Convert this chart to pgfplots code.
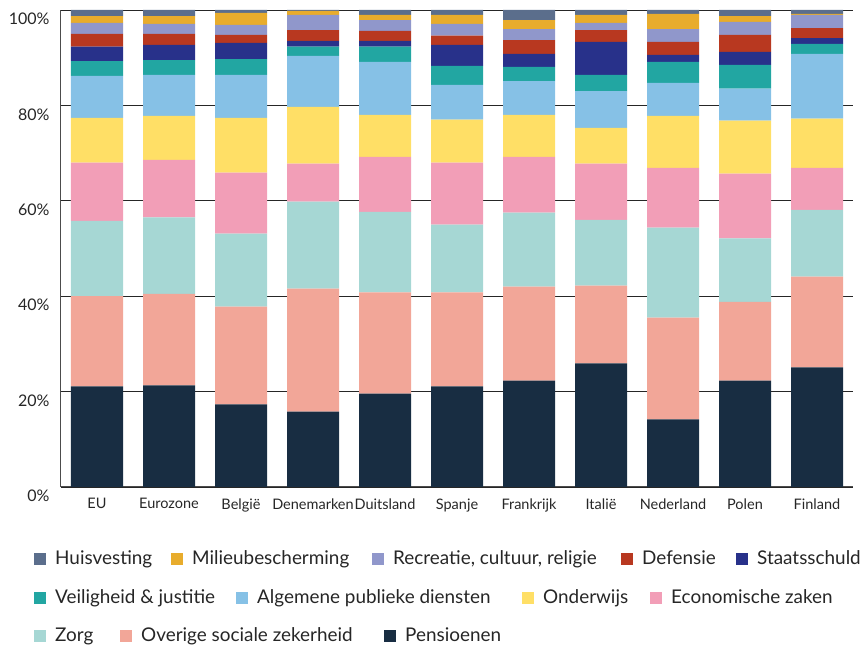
\documentclass[border=0pt]{standalone}
\usepackage{pgfplots}
\pgfplotsset{compat=1.18}
\usepackage{pgfplotstable}
\usepackage{fontspec}
\setmainfont{Lato}

\definecolor{huis}{HTML}{5B6E8C}
\definecolor{mil}{HTML}{E8AC2C}
\definecolor{recr}{HTML}{9097CB}
\definecolor{def}{HTML}{B83820}
\definecolor{staats}{HTML}{28318A}
\definecolor{veil}{HTML}{22A6A2}
\definecolor{alg}{HTML}{86C1E6}
\definecolor{ond}{HTML}{FFDF66}
\definecolor{econ}{HTML}{F29EB7}
\definecolor{zorg}{HTML}{A6D7D4}
\definecolor{over}{HTML}{F2A698}
\definecolor{pens}{HTML}{182D42}

\pgfplotstableread{
x pens over zorg econ ond alg veil staats def recr mil huis
0 21.1 18.9 15.8 12.2 9.4 8.8 3.1 3.0 2.7 2.3 1.4 1.3
1 21.3 19.2 16.0 12.1 9.2 8.6 3.1 3.2 2.3 2.1 1.6 1.3
2 17.3 20.5 15.3 12.8 11.5 9.0 3.3 3.4 1.7 2.1 2.5 0.6
3 15.8 25.8 18.2 8.0 11.9 10.7 1.9 1.2 2.3 3.2 0.8 0.2
4 19.6 21.2 16.9 11.5 8.8 11.1 3.2 1.2 2.1 2.3 1.1 1.0
5 21.1 19.7 14.2 13.0 9.0 7.3 4.0 4.4 1.9 2.5 1.9 1.0
6 22.3 19.7 15.5 11.7 8.8 7.1 3.0 2.7 2.9 2.3 1.9 2.1
7 25.9 16.3 13.8 11.8 7.5 7.7 3.4 6.9 2.5 1.5 1.7 1.0
8 14.2 21.3 18.9 12.5 10.9 6.9 4.4 1.5 2.7 2.7 3.2 0.8
9 22.3 16.5 13.3 13.6 11.1 6.7 5.0 2.7 3.6 2.7 1.2 1.3
10 25.1 19.0 14.0 8.8 10.3 13.6 2.1 1.2 2.1 2.8 0.2 0.8
}\data

\newcommand{\legsq}[1]{\textcolor{#1}{\rule[-0.5pt]{12pt}{12pt}}\hspace{9pt}}

\begin{document}
\begin{tikzpicture}[x=1pt,y=1pt]
\path[use as bounding box] (0,0) rectangle (868,647);
\begin{axis}[
  at={(61pt,160pt)}, anchor=south west,
  scale only axis, width=792pt, height=477pt,
  ybar stacked, bar width=52pt,
  xmin=-0.5, xmax=10.5, ymin=0, ymax=100,
  xtick={0,...,10},
  xticklabels={EU,Eurozone,België,Denemarken,Duitsland,Spanje,Frankrijk,Italië,Nederland,Polen,Finland},
  ytick={0,20,40,60,80,100},
  yticklabel={\pgfmathprintnumber{\tick}\%},
  /pgf/number format/assume math mode=true,
  axis x line*=bottom, axis y line*=left,
  ymajorgrids,
  grid style={draw=black!85, line width=0.8pt},
  axis line style={draw=black!70, line width=1pt},
  major tick length=0pt,
  tick label style={font=\fontsize{14.5}{16}\selectfont, text=black!85},
  yticklabel style={font=\fontsize{16}{18}\selectfont, xshift=-8pt, yshift=-9pt},
  xticklabel style={yshift=-8pt},
  every axis plot/.append style={draw=none},
]
\addplot[fill=pens] table[x=x,y=pens]{\data};
\addplot[fill=over] table[x=x,y=over]{\data};
\addplot[fill=zorg] table[x=x,y=zorg]{\data};
\addplot[fill=econ] table[x=x,y=econ]{\data};
\addplot[fill=ond] table[x=x,y=ond]{\data};
\addplot[fill=alg] table[x=x,y=alg]{\data};
\addplot[fill=veil] table[x=x,y=veil]{\data};
\addplot[fill=staats] table[x=x,y=staats]{\data};
\addplot[fill=def] table[x=x,y=def]{\data};
\addplot[fill=recr] table[x=x,y=recr]{\data};
\addplot[fill=mil] table[x=x,y=mil]{\data};
\addplot[fill=huis] table[x=x,y=huis]{\data};
\end{axis}
\begin{scope}[every node/.style={anchor=base west, inner sep=0pt, font=\fontsize{18.9}{21}\selectfont, text=black!85}]
\node at (34,82) {\legsq{huis}Huisvesting};
\node at (171,82) {\legsq{mil}Milieubescherming};
\node at (372,82) {\legsq{recr}Recreatie, cultuur, religie};
\node at (621,82) {\legsq{def}Defensie};
\node at (736,82) {\legsq{staats}Staatsschuld};
\node at (34,43) {\legsq{veil}Veiligheid \& justitie};
\node at (236,43) {\legsq{alg}Algemene publieke diensten};
\node at (522,43) {\legsq{ond}Onderwijs};
\node at (650,43) {\legsq{econ}Economische zaken};
\node at (34,5) {\legsq{zorg}Zorg};
\node at (120,5) {\legsq{over}Overige sociale zekerheid};
\node at (384,5) {\legsq{pens}Pensioenen};
\end{scope}
\end{tikzpicture}
\end{document}
